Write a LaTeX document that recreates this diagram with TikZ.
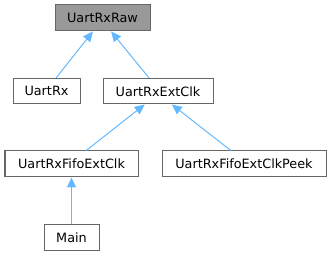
\documentclass[tikz,border=0pt]{standalone}
\usepackage{fontspec}
\setmainfont{DejaVu Sans}
\usetikzlibrary{arrows.meta,calc}
\definecolor{edgeblue}{HTML}{63B8FF}
\definecolor{boxline}{HTML}{666666}
\definecolor{basefill}{HTML}{999999}
\begin{document}
\begin{tikzpicture}[x=1pt,y=-1pt,
  cls/.style={draw=boxline,line width=1pt,fill=white,inner sep=0pt,
    font=\fontsize{12.8}{14}\selectfont,text=black},
  base/.style={cls,fill=basefill},
  inh/.style={draw=edgeblue,line width=1pt,
    {Triangle[length=10pt,width=9pt,fill=edgeblue]}-}]
\useasboundingbox (0,0) rectangle (333,256);

% class boxes
\node[base,minimum width=95pt,minimum height=26pt] (raw) at (102.5,18) {UartRxRaw};
\node[cls,minimum width=67pt,minimum height=25.5pt] (rx) at (46.5,91.25) {UartRx};
\node[cls,minimum width=110pt,minimum height=25.5pt] (ext) at (158,91.25) {UartRxExtClk};
\node[cls,minimum width=133pt,minimum height=26pt] (fifo) at (71.5,164) {UartRxFifoExtClk};
\node[cls,minimum width=164pt,minimum height=26pt] (peek) at (244,164) {UartRxFifoExtClkPeek};
\node[cls,minimum width=55pt,minimum height=26pt] (main) at (71.5,238) {Main};

% inheritance edges, arrow at the parent
\draw[inh] ($(raw.south west)!0.40!(raw.south east)$) -- ($(rx.north west)!0.64!(rx.north east)$);
\draw[inh] ($(raw.south west)!0.59!(raw.south east)$) -- ($(ext.north west)!0.42!(ext.north east)$);
\draw[inh] ($(ext.south west)!0.38!(ext.south east)$) -- ($(fifo.north west)!0.61!(fifo.north east)$);
\draw[inh] ($(ext.south west)!0.625!(ext.south east)$) -- ($(peek.north west)!0.42!(peek.north east)$);
\draw[inh] (fifo.south) -- (main.north);
\end{tikzpicture}
\end{document}
